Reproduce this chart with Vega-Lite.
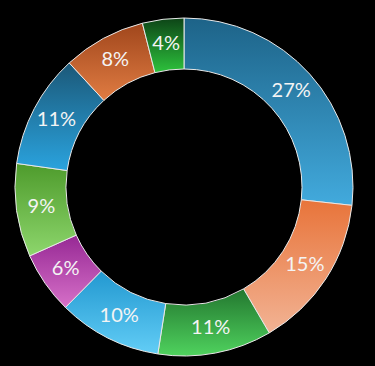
{
  "$schema": "https://vega.github.io/schema/vega-lite/v6.json",
  "width": 375,
  "height": 366,
  "autosize": {"type": "fit", "contains": "padding"},
  "padding": {"top": 8, "bottom": 0, "left": 0, "right": 7},
  "background": "#000000",
  "view": {"stroke": null},
  "data": {
    "values": [
      {"k": 1, "seg": "A", "share": 27, "label": "27%"},
      {"k": 2, "seg": "B", "share": 15, "label": "15%"},
      {"k": 3, "seg": "C", "share": 11, "label": "11%"},
      {"k": 4, "seg": "D", "share": 10, "label": "10%"},
      {"k": 5, "seg": "E", "share": 6, "label": "6%"},
      {"k": 6, "seg": "F", "share": 9, "label": "9%"},
      {"k": 7, "seg": "G", "share": 11, "label": "11%"},
      {"k": 8, "seg": "H", "share": 8, "label": "8%"},
      {"k": 9, "seg": "I", "share": 4, "label": "4%"}
    ]
  },
  "transform": [
    {"stack": "share", "groupby": [], "sort": [{"field": "k", "order": "ascending"}], "as": ["t0", "t1"]}
  ],
  "layer": [
    {"transform": [{"filter": "datum.seg === 'A'"}], "mark": {"type": "arc", "outerRadius": 169, "innerRadius": 118, "stroke": "#e8e8e8", "strokeWidth": 1, "fill": {"gradient": "linear", "x1": 0, "y1": 0, "x2": 0, "y2": 1, "stops": [{"offset": 0, "color": "#1d6388"}, {"offset": 1, "color": "#42aadd"}]}},
     "encoding": {"theta": {"field": "t0", "type": "quantitative", "scale": {"domain": [0, 101]}}, "theta2": {"field": "t1"}}},
    {"transform": [{"filter": "datum.seg === 'B'"}], "mark": {"type": "arc", "outerRadius": 169, "innerRadius": 118, "stroke": "#e8e8e8", "strokeWidth": 1, "fill": {"gradient": "linear", "x1": 0, "y1": 0, "x2": 0, "y2": 1, "stops": [{"offset": 0, "color": "#e8743a"}, {"offset": 1, "color": "#f2b394"}]}},
     "encoding": {"theta": {"field": "t0", "type": "quantitative", "scale": {"domain": [0, 101]}}, "theta2": {"field": "t1"}}},
    {"transform": [{"filter": "datum.seg === 'C'"}], "mark": {"type": "arc", "outerRadius": 169, "innerRadius": 118, "stroke": "#e8e8e8", "strokeWidth": 1, "fill": {"gradient": "linear", "x1": 0, "y1": 0, "x2": 0, "y2": 1, "stops": [{"offset": 0, "color": "#23772f"}, {"offset": 1, "color": "#4fd25e"}]}},
     "encoding": {"theta": {"field": "t0", "type": "quantitative", "scale": {"domain": [0, 101]}}, "theta2": {"field": "t1"}}},
    {"transform": [{"filter": "datum.seg === 'D'"}], "mark": {"type": "arc", "outerRadius": 169, "innerRadius": 118, "stroke": "#e8e8e8", "strokeWidth": 1, "fill": {"gradient": "linear", "x1": 0, "y1": 0, "x2": 0, "y2": 1, "stops": [{"offset": 0, "color": "#2298d0"}, {"offset": 1, "color": "#62cdf6"}]}},
     "encoding": {"theta": {"field": "t0", "type": "quantitative", "scale": {"domain": [0, 101]}}, "theta2": {"field": "t1"}}},
    {"transform": [{"filter": "datum.seg === 'E'"}], "mark": {"type": "arc", "outerRadius": 169, "innerRadius": 118, "stroke": "#e8e8e8", "strokeWidth": 1, "fill": {"gradient": "linear", "x1": 0, "y1": 0, "x2": 0, "y2": 1, "stops": [{"offset": 0, "color": "#962894"}, {"offset": 1, "color": "#d670c8"}]}},
     "encoding": {"theta": {"field": "t0", "type": "quantitative", "scale": {"domain": [0, 101]}}, "theta2": {"field": "t1"}}},
    {"transform": [{"filter": "datum.seg === 'F'"}], "mark": {"type": "arc", "outerRadius": 169, "innerRadius": 118, "stroke": "#e8e8e8", "strokeWidth": 1, "fill": {"gradient": "linear", "x1": 0, "y1": 0, "x2": 0, "y2": 1, "stops": [{"offset": 0, "color": "#4e9b2c"}, {"offset": 1, "color": "#8dd66c"}]}},
     "encoding": {"theta": {"field": "t0", "type": "quantitative", "scale": {"domain": [0, 101]}}, "theta2": {"field": "t1"}}},
    {"transform": [{"filter": "datum.seg === 'G'"}], "mark": {"type": "arc", "outerRadius": 169, "innerRadius": 118, "stroke": "#e8e8e8", "strokeWidth": 1, "fill": {"gradient": "linear", "x1": 0, "y1": 0, "x2": 0, "y2": 1, "stops": [{"offset": 0, "color": "#1b5878"}, {"offset": 1, "color": "#2aa3de"}]}},
     "encoding": {"theta": {"field": "t0", "type": "quantitative", "scale": {"domain": [0, 101]}}, "theta2": {"field": "t1"}}},
    {"transform": [{"filter": "datum.seg === 'H'"}], "mark": {"type": "arc", "outerRadius": 169, "innerRadius": 118, "stroke": "#e8e8e8", "strokeWidth": 1, "fill": {"gradient": "linear", "x1": 0, "y1": 0, "x2": 0, "y2": 1, "stops": [{"offset": 0, "color": "#a0461c"}, {"offset": 1, "color": "#e07c42"}]}},
     "encoding": {"theta": {"field": "t0", "type": "quantitative", "scale": {"domain": [0, 101]}}, "theta2": {"field": "t1"}}},
    {"transform": [{"filter": "datum.seg === 'I'"}], "mark": {"type": "arc", "outerRadius": 169, "innerRadius": 118, "stroke": "#e8e8e8", "strokeWidth": 1, "fill": {"gradient": "linear", "x1": 0, "y1": 0, "x2": 0, "y2": 1, "stops": [{"offset": 0, "color": "#0d4417"}, {"offset": 1, "color": "#2dc23c"}]}},
     "encoding": {"theta": {"field": "t0", "type": "quantitative", "scale": {"domain": [0, 101]}}, "theta2": {"field": "t1"}}},
    {
      "mark": {"type": "text", "radius": 144, "font": "Lato", "fontSize": 20, "color": "#f4f4f4", "align": "center", "baseline": "middle"},
      "encoding": {
        "theta": {"field": "share", "type": "quantitative", "stack": true, "scale": {"domain": [0, 101]}},
        "order": {"field": "k", "type": "quantitative"},
        "text": {"field": "label", "type": "nominal"}
      }
    }
  ]
}
